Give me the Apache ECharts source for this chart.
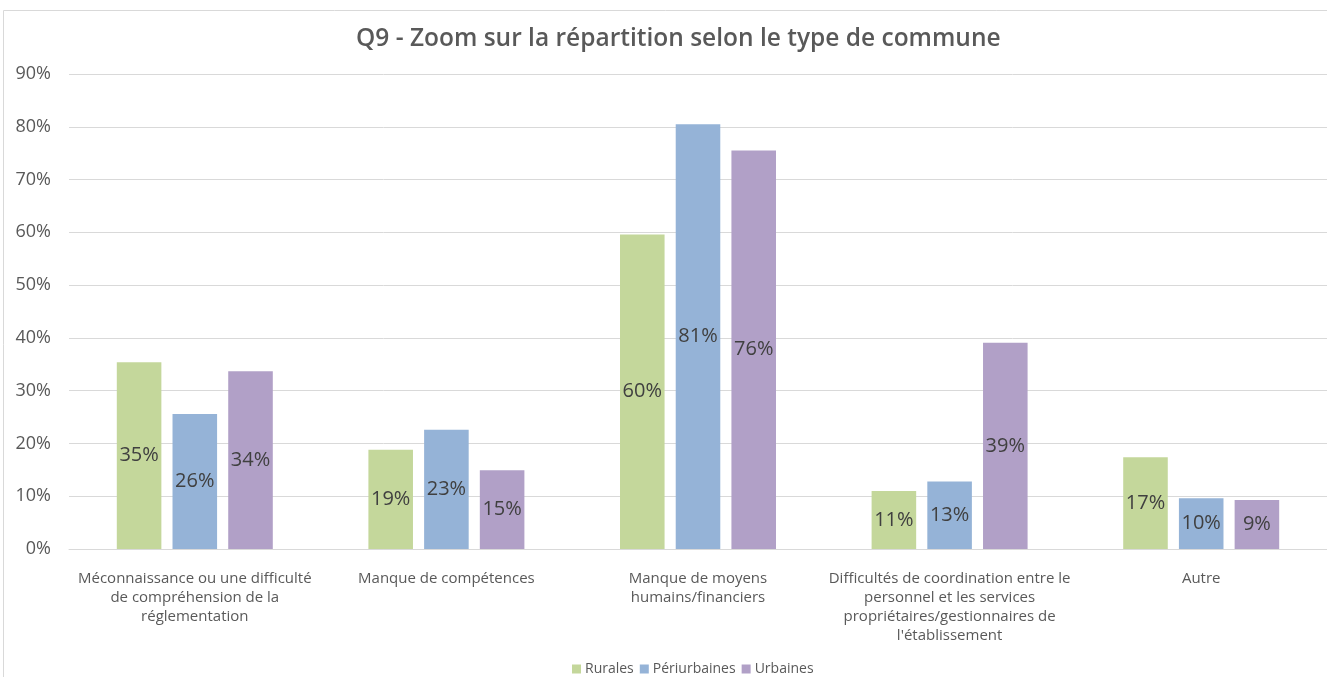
<!DOCTYPE html>
<html>
<head>
<meta charset="utf-8">
<script src="https://cdn.jsdelivr.net/npm/echarts@6/dist/echarts.min.js"></script>
<style>
  html, body { margin: 0; padding: 0; background: #fff; }
  #chart { width: 1327px; height: 677px; }
</style>
</head>
<body>
<div id="chart"></div>
<script>
var categories = [
    'Méconnaissance ou une difficulté\nde compréhension de la\nréglementation',
    'Manque de compétences',
    'Manque de moyens\nhumains/financiers',
    'Difficultés de coordination entre le\npersonnel et les services\npropriétaires/gestionnaires de\nl\'établissement',
    'Autre'
];
var seriesNames = ['Rurales', 'Périurbaines', 'Urbaines'];
var rurales = [35.4, 18.8, 59.6, 11.0, 17.4];
var periurbaines = [25.6, 22.6, 80.5, 12.8, 9.6];
var urbaines = [33.7, 14.9, 75.5, 39.1, 9.3];
var yTicks = [0, 10, 20, 30, 40, 50, 60, 70, 80, 90];

var font = '"Open Sans", "Noto Sans", sans-serif';
var chart = echarts.init(document.getElementById('chart'));

function makeSeries(name, data, color) {
    return {
        name: name,
        type: 'bar',
        data: data,
        barGap: '25%',
        barCategoryGap: '38%',
        itemStyle: { color: color },
        label: {
            show: true,
            position: 'inside',
            color: '#404040',
            fontFamily: font,
            fontSize: 20,
            formatter: function (p) { return Math.round(p.value) + '%'; }
        }
    };
}

chart.setOption({
    animation: false,
    textStyle: { fontFamily: font },
    graphic: [{
        type: 'rect',
        shape: { x: 3.5, y: 10.5, width: 1340, height: 700 },
        style: { fill: 'none', stroke: '#d9d9d9', lineWidth: 1 },
        z: -1
    }],
    title: {
        text: 'Q9 - Zoom sur la répartition selon le type de commune',
        left: 351,
        top: 22,
        textStyle: { color: '#595959', fontSize: 24.5, fontWeight: 600, fontFamily: font }
    },
    legend: {
        data: seriesNames,
        top: 657,
        left: 567,
        itemWidth: 9,
        itemHeight: 9,
        itemGap: 6,
        icon: 'rect',
        textStyle: { color: '#595959', fontSize: 14, fontFamily: font, padding: [0, 0, 0, -1] }
    },
    grid: { left: 69, right: 0, top: 74, bottom: 128 },
    xAxis: {
        type: 'category',
        data: categories,
        axisLine: { lineStyle: { color: '#d9d9d9' } },
        axisTick: { show: false },
        axisLabel: {
            color: '#595959',
            fontSize: 15,
            lineHeight: 19,
            margin: 20,
            interval: 0,
            fontFamily: font
        }
    },
    yAxis: {
        type: 'value',
        min: yTicks[0],
        max: yTicks[yTicks.length - 1],
        interval: 10,
        axisLine: { show: false },
        axisTick: { show: false },
        splitLine: { lineStyle: { color: '#d9d9d9' } },
        axisLabel: {
            color: '#595959',
            fontSize: 18,
            margin: 18,
            fontFamily: font,
            formatter: '{value}%'
        }
    },
    series: [
        makeSeries(seriesNames[0], rurales, '#c4d79b'),
        makeSeries(seriesNames[1], periurbaines, '#95b3d7'),
        makeSeries(seriesNames[2], urbaines, '#b1a0c7')
    ]
});
</script>
</body>
</html>
